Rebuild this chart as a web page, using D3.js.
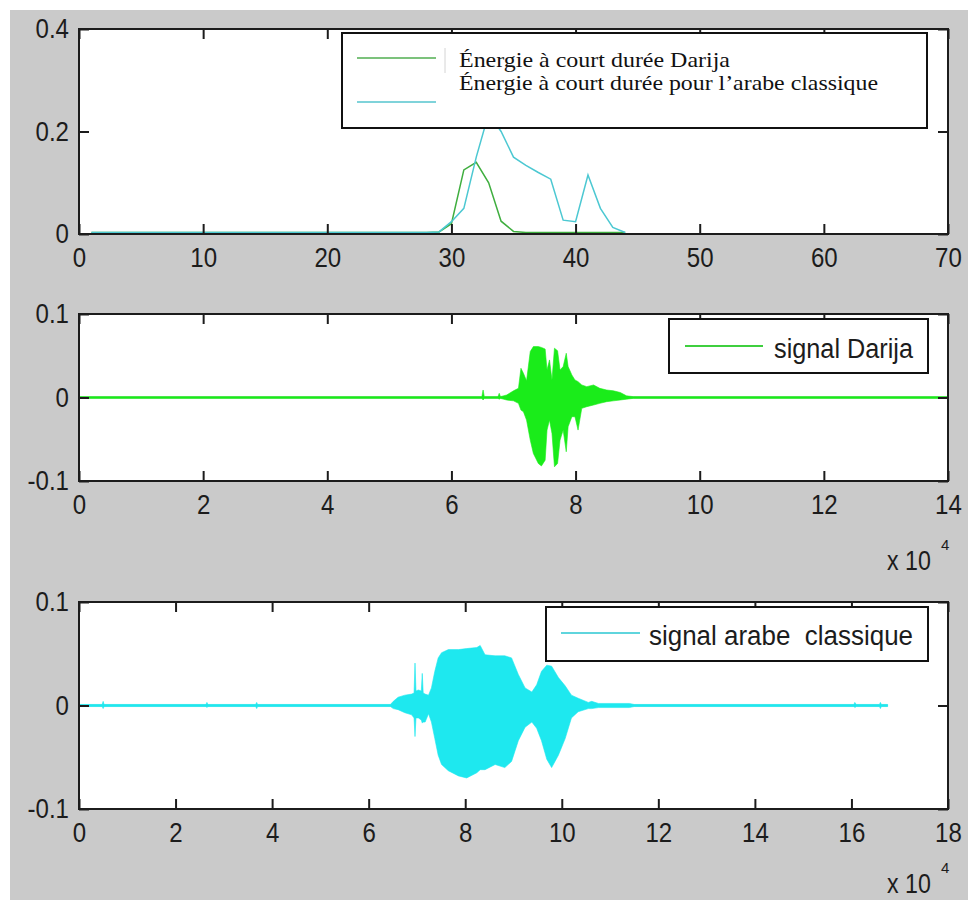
<!DOCTYPE html>
<html>
<head>
<meta charset="utf-8">
<script src="https://cdn.jsdelivr.net/npm/d3@7"></script>
<style>
body { margin: 0; background: #fff; }
svg { display: block; }
</style>
</head>
<body>
<svg id="fig" width="968" height="900"></svg>
<script>
// ---- data ----
// short-time energy, one value per frame
var energyFrames = [1,2,3,4,5,6,7,8,9,10,11,12,13,14,15,16,17,18,19,20,21,22,
    23,24,25,26,27,28,29,30,31,32,33,34,35,36,37,38,39,40,41,42,43,44];
var energyDarija = [0.003,0.003,0.003,0.003,0.003,0.003,0.003,0.003,0.003,0.003,0.003,
    0.003,0.003,0.003,0.003,0.003,0.003,0.003,0.003,0.003,0.003,0.003,0.003,0.003,
    0.003,0.003,0.003,0.003,0.004,0.02,0.125,0.14,0.10,0.025,0.005,0.003,0.003,
    0.003,0.003,0.003,0.003,0.003,0.003,0.003];
var energyArabe = [0.003,0.003,0.003,0.003,0.003,0.003,0.003,0.003,0.003,0.003,0.003,
    0.003,0.003,0.003,0.003,0.003,0.003,0.003,0.003,0.003,0.003,0.003,0.003,0.003,
    0.003,0.003,0.003,0.003,0.004,0.024,0.05,0.15,0.235,0.2,0.15,0.134,0.12,0.107,
    0.027,0.024,0.115,0.05,0.013,0.003];

// waveform envelopes (x in units of 10^4 samples)
var darijaX   = [0,6.49,6.51,6.53,6.75,6.77,6.79,6.89,7.00,7.08,7.12,7.16,7.21,7.27,7.32,
    7.40,7.45,7.51,7.54,7.58,7.62,7.66,7.71,7.75,7.80,7.85,7.88,7.94,7.99,8.04,8.10,
    8.18,8.29,8.39,8.50,8.61,8.72,8.82,8.93,14];
var darijaTop = [0.001,0.001,0.009,0.001,0.001,0.005,0.001,0.003,0.008,0.011,0.035,0.029,
    0.02,0.055,0.061,0.061,0.060,0.058,0.033,0.045,0.021,0.059,0.056,0.033,0.037,0.053,
    0.037,0.027,0.021,0.019,0.015,0.013,0.015,0.011,0.009,0.008,0.006,0.002,0.001,0.001];
var darijaBottom = [-0.001,-0.001,-0.003,-0.001,-0.001,-0.002,-0.001,-0.003,-0.004,-0.007,
    -0.015,-0.017,-0.027,-0.051,-0.067,-0.079,-0.082,-0.075,-0.039,-0.027,-0.043,-0.083,
    -0.079,-0.051,-0.039,-0.065,-0.035,-0.023,-0.023,-0.039,-0.013,-0.011,-0.009,-0.007,
    -0.005,-0.004,-0.003,-0.002,-0.001,-0.001];

var arabeX   = [0,0.48,0.5,0.52,2.63,2.65,2.67,3.66,3.68,3.70,6.45,6.51,6.61,6.75,6.89,6.94,
    6.96,6.98,7.03,7.09,7.11,7.13,7.17,7.24,7.30,7.37,7.44,7.51,7.65,7.86,8.03,8.24,8.31,
    8.41,8.62,8.82,8.96,9.10,9.24,9.38,9.48,9.58,9.69,9.79,9.93,10.07,10.20,10.34,10.55,
    10.62,10.76,11.40,11.50,16.05,16.07,16.10,16.58,16.60,16.62,16.75];
var arabeTop = [0.001,0.001,0.004,0.001,0.001,0.003,0.001,0.001,0.003,0.001,0.001,0.004,
    0.008,0.010,0.011,0.012,0.041,0.014,0.015,0.014,0.031,0.012,0.011,0.010,0.017,0.033,
    0.046,0.051,0.054,0.054,0.055,0.056,0.058,0.049,0.048,0.048,0.046,0.030,0.017,0.013,
    0.020,0.033,0.039,0.038,0.027,0.019,0.010,0.007,0.003,0.004,0.002,0.002,0.001,0.001,
    0.003,0.001,0.001,0.003,0.001,0.001];
var arabeBottom = [-0.001,-0.001,-0.003,-0.001,-0.001,-0.002,-0.001,-0.001,-0.003,-0.001,
    -0.001,-0.003,-0.004,-0.007,-0.009,-0.012,-0.030,-0.012,-0.012,-0.014,-0.017,-0.016,
    -0.016,-0.008,-0.016,-0.032,-0.048,-0.057,-0.063,-0.068,-0.070,-0.065,-0.062,-0.062,
    -0.057,-0.060,-0.054,-0.034,-0.021,-0.016,-0.022,-0.034,-0.052,-0.060,-0.048,-0.032,
    -0.012,-0.006,-0.003,-0.003,-0.002,-0.002,-0.001,-0.001,-0.002,-0.001,-0.001,-0.003,
    -0.001,-0.001];

// tick labels
var energyXTicks = [0,10,20,30,40,50,60,70];
var energyYTicks = [0,0.2,0.4];
var signalYTicks = [-0.1,0,0.1];
var darijaXTicks = [0,2,4,6,8,10,12,14];
var arabeXTicks = [0,2,4,6,8,10,12,14,16,18];

// legend texts
var energyLegend = ["Énergie à court durée Darija", "Énergie à court durée pour l’arabe classique"];
var darijaLegend = "signal Darija";
var arabeLegend = "signal arabe  classique";

// ---- drawing ----
var svg = d3.select("#fig");
var sansFont = "'Liberation Sans', Arial, Helvetica, sans-serif";
var serifFont = "'Liberation Serif', 'Times New Roman', serif";
var squeeze = 0.86;
var axisColor = "#1c1c1c";

svg.append("rect").attr("x", 10).attr("y", 10).attr("width", 958).attr("height", 890)
    .attr("fill", "#cacaca");

function makePanel(id, top, height, xDomain, yDomain) {
    var left = 79, width = 869;
    var g = svg.append("g").attr("transform", "translate(" + left + "," + top + ")");
    g.append("rect").attr("width", width).attr("height", height).attr("fill", "#fff");
    g.append("clipPath").attr("id", "clip" + id)
        .append("rect").attr("width", width).attr("height", height);
    var plot = g.append("g").attr("clip-path", "url(#clip" + id + ")");
    var x = d3.scaleLinear().domain(xDomain).range([0, width]);
    var y = d3.scaleLinear().domain(yDomain).range([height, 0]);
    return { g: g, plot: plot, x: x, y: y, w: width, h: height };
}

function drawAxes(p, xTicks, yTicks) {
    var fmt = function(d) { return String(d); };
    var axes = p.g.append("g");
    axes.append("g").attr("transform", "translate(0," + p.h + ")")
        .call(d3.axisBottom(p.x).tickValues(xTicks).tickSizeInner(-10).tickSizeOuter(0)
            .tickPadding(13).tickFormat(fmt));
    axes.append("g")
        .call(d3.axisTop(p.x).tickValues(xTicks).tickSizeInner(-10).tickSizeOuter(0).tickFormat(""));
    axes.append("g")
        .call(d3.axisLeft(p.y).tickValues(yTicks).tickSizeInner(-10).tickSizeOuter(0)
            .tickPadding(10).tickFormat(fmt));
    axes.append("g").attr("transform", "translate(" + p.w + ",0)")
        .call(d3.axisRight(p.y).tickValues(yTicks).tickSizeInner(-10).tickSizeOuter(0).tickFormat(""));
    axes.selectAll(".domain").remove();
    axes.selectAll(".tick line").attr("stroke", axisColor).attr("stroke-width", 2);
    axes.selectAll(".tick text")
        .attr("font-family", sansFont).attr("font-size", 28).attr("fill", axisColor)
        .each(function() {
            var t = d3.select(this);
            var tx = +t.attr("x") || 0;
            t.attr("x", tx / squeeze).attr("transform", "scale(" + squeeze + ",1)");
        });
    p.g.append("rect").attr("width", p.w).attr("height", p.h)
        .attr("fill", "none").attr("stroke", axisColor).attr("stroke-width", 2);
}

function legendBox(x0, y0, x1, y1) {
    svg.append("rect").attr("x", x0).attr("y", y0).attr("width", x1 - x0).attr("height", y1 - y0)
        .attr("fill", "#fff").attr("stroke", "#111").attr("stroke-width", 2);
}

function legendLine(x0, x1, yy, color) {
    svg.append("line").attr("x1", x0).attr("x2", x1).attr("y1", yy).attr("y2", yy)
        .attr("stroke", color).attr("stroke-width", 2);
}

function timesTen(xx, baseline) {
    svg.append("text").attr("transform", "translate(" + xx + "," + baseline + ") scale(" + squeeze + ",1)")
        .attr("font-family", sansFont).attr("font-size", 27).attr("fill", axisColor)
        .style("white-space", "pre").text("x 10");
    svg.append("text").attr("x", 941).attr("y", baseline - 20)
        .attr("font-family", sansFont).attr("font-size", 15).attr("fill", axisColor).text("4");
}

// panel 1: short-time energy
var p1 = makePanel(1, 29, 205, [0, 70], [0, 0.4]);
var energyLine = d3.line()
    .x(function(d) { return p1.x(d[0]); })
    .y(function(d) { return p1.y(d[1]); });
p1.plot.append("path").datum(d3.zip(energyFrames, energyDarija))
    .attr("d", energyLine).attr("fill", "none").attr("stroke", "#3fae3f").attr("stroke-width", 1.5);
p1.plot.append("path").datum(d3.zip(energyFrames, energyArabe))
    .attr("d", energyLine).attr("fill", "none").attr("stroke", "#4cc8d2").attr("stroke-width", 1.5);
drawAxes(p1, energyXTicks, energyYTicks);

legendBox(342, 33, 927, 128);
legendLine(357, 436, 58, "#7cc27c");
legendLine(357, 436, 102, "#7fd3da");
svg.append("line").attr("x1", 445).attr("x2", 445).attr("y1", 48).attr("y2", 73)
    .attr("stroke", "#d4d4d4").attr("stroke-width", 1);
svg.append("text").attr("x", 459).attr("y", 67)
    .attr("font-family", serifFont).attr("font-size", 21).attr("fill", "#111")
    .attr("textLength", 271).attr("lengthAdjust", "spacingAndGlyphs").text(energyLegend[0]);
svg.append("text").attr("x", 459).attr("y", 90)
    .attr("font-family", serifFont).attr("font-size", 21).attr("fill", "#111")
    .attr("textLength", 419).attr("lengthAdjust", "spacingAndGlyphs").text(energyLegend[1]);

// panels 2 and 3: waveforms
function drawSignal(p, xs, tops, bottoms, lineColor, fillColor) {
    var pts = xs.map(function(v, i) { return { x: v, hi: tops[i], lo: bottoms[i] }; });
    p.plot.append("line")
        .attr("x1", p.x(d3.min(xs))).attr("x2", p.x(d3.max(xs)))
        .attr("y1", p.y(0)).attr("y2", p.y(0))
        .attr("stroke", lineColor).attr("stroke-width", 2.2);
    p.plot.append("path").datum(pts)
        .attr("d", d3.area()
            .x(function(d) { return p.x(d.x); })
            .y0(function(d) { return p.y(d.lo); })
            .y1(function(d) { return p.y(d.hi); }))
        .attr("fill", fillColor).attr("stroke", fillColor).attr("stroke-width", 0.6);
}

var p2 = makePanel(2, 314, 167, [0, 14], [-0.1, 0.1]);
drawSignal(p2, darijaX, darijaTop, darijaBottom, "#43c443", "#1aec1a");
drawAxes(p2, darijaXTicks, signalYTicks);
legendBox(669, 319, 928, 373);
legendLine(685, 763, 346, "#3fcf3f");
svg.append("text").attr("x", 774).attr("y", 358)
    .attr("font-family", sansFont).attr("font-size", 27).attr("fill", axisColor)
    .attr("textLength", 139).attr("lengthAdjust", "spacingAndGlyphs").text(darijaLegend);
timesTen(887, 570);

var p3 = makePanel(3, 602, 207, [0, 18], [-0.1, 0.1]);
drawSignal(p3, arabeX, arabeTop, arabeBottom, "#55cdd4", "#1ee8ef");
drawAxes(p3, arabeXTicks, signalYTicks);
legendBox(546, 607, 928, 661);
legendLine(561, 640, 633, "#5fd5dd");
svg.append("text").attr("x", 649).attr("y", 645)
    .attr("font-family", sansFont).attr("font-size", 27).attr("fill", axisColor)
    .style("white-space", "pre")
    .attr("textLength", 264).attr("lengthAdjust", "spacingAndGlyphs").text(arabeLegend);
timesTen(887, 893);
</script>
</body>
</html>
